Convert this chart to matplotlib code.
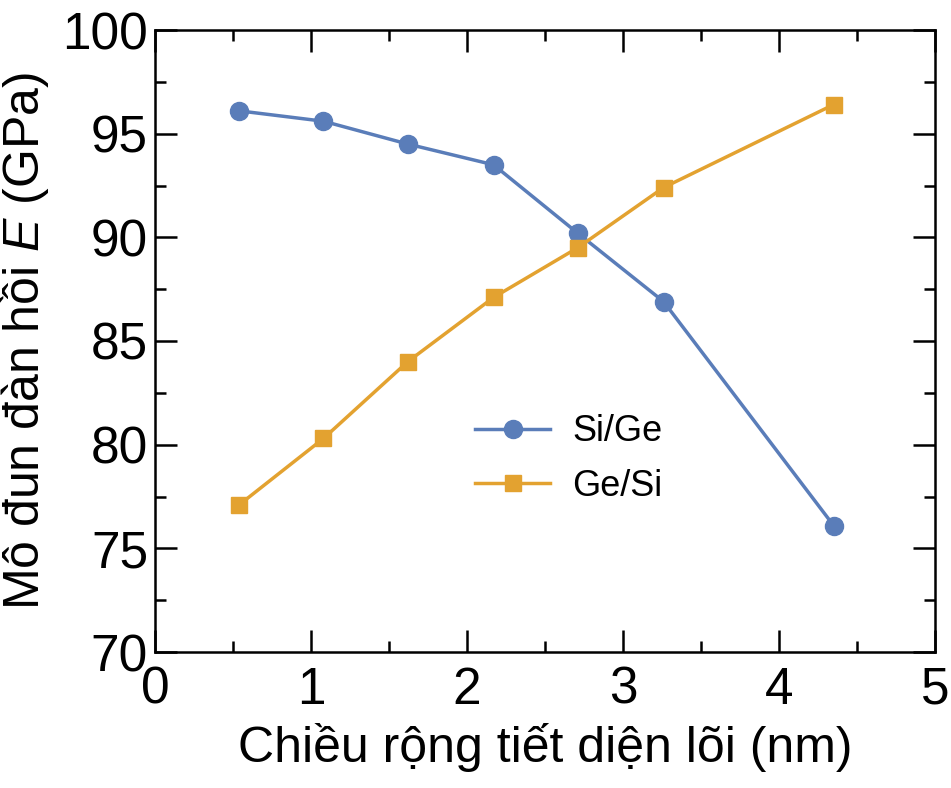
import matplotlib
matplotlib.use("Agg")
import matplotlib.pyplot as plt
from matplotlib.ticker import MultipleLocator

plt.rcParams['font.family'] = ['Liberation Sans', 'DejaVu Sans']
plt.rcParams['mathtext.fontset'] = 'custom'
plt.rcParams['mathtext.rm'] = 'Liberation Sans'
plt.rcParams['mathtext.it'] = 'Liberation Sans:italic'

x = [0.54, 1.08, 1.62, 2.17, 2.71, 3.26, 4.35]
si_ge = [96.1, 95.6, 94.5, 93.5, 90.2, 86.9, 76.1]
ge_si = [77.1, 80.3, 84.0, 87.1, 89.5, 92.4, 96.4]

blue = "#5a7db9"
orange = "#e3a230"

fig = plt.figure(figsize=(9.51, 7.88), dpi=100)
ax = fig.add_axes([155/951, 1-652/788, 780/951, 622/788])

ax.plot(x, si_ge, color=blue, lw=2.5, marker="o", ms=13, label="Si/Ge")
ax.plot(x, ge_si, color=orange, lw=2.5, marker="s", ms=11, label="Ge/Si")

ax.set_xlim(0, 5)
ax.set_ylim(70, 100)
ax.xaxis.set_major_locator(MultipleLocator(1))
ax.xaxis.set_minor_locator(MultipleLocator(0.5))
ax.yaxis.set_major_locator(MultipleLocator(5))
ax.yaxis.set_minor_locator(MultipleLocator(2.5))
ax.tick_params(which="both", direction="in", top=True, right=True, width=1.8)
ax.tick_params(which="major", length=16, labelsize=37)
ax.tick_params(axis="x", which="major", pad=10)
ax.tick_params(axis="y", which="major", pad=5)
ax.tick_params(which="minor", length=8)
for s in ax.spines.values():
    s.set_linewidth(1.8)

ax.set_xlabel("Chiều rộng tiết diện lõi (nm)", fontsize=36, labelpad=6)
ax.set_ylabel("Mô đun đàn hồi $\\mathit{E}$ (GPa)", fontsize=36, labelpad=8)

ax.legend(loc="center", bbox_to_anchor=(0.53, 0.31), frameon=False,
          fontsize=26, handlelength=2.1, labelspacing=0.55, handletextpad=0.6)

fig.savefig("out.png", dpi=100)
